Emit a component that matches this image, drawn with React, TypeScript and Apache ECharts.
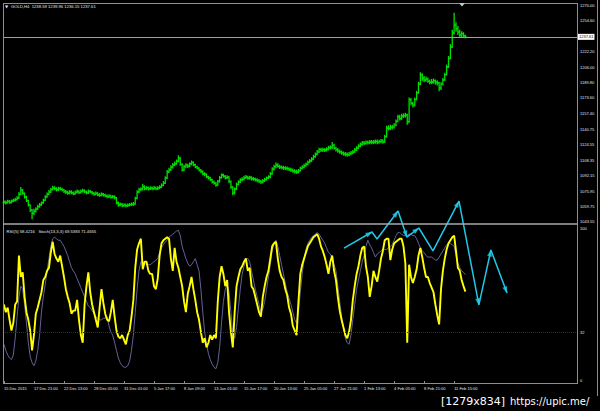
import React, { useEffect, useRef } from "react";
import * as echarts from "echarts";

const xTickLabels = ["15 Dec 2015","17 Dec 21:00","22 Dec 13:00","28 Dec 05:00","31 Dec 01:00","5 Jan 17:00","8 Jan 09:00","13 Jan 01:00","15 Jan 17:00","20 Jan 13:00","25 Jan 05:00","27 Jan 21:00","1 Feb 13:00","4 Feb 05:00","8 Feb 21:00","11 Feb 15:00"];
const barsPerLabel = 16;
const priceTicks = [1270.0,1254.6,1222.2,1206.0,1189.8,1173.6,1157.4,1140.75,1124.55,1108.35,1092.15,1075.95,1059.75,1043.55];
const indicatorTicks = [0, 32, 100];
const rsiLevel = 32;
const lastPrice = 1237.61;
const firstOpen = 1064.0;

const closes = [1064.5,1063.8,1065.2,1064.0,1065.5,1066.3,1067.1,1068.7,1072.5,1077.0,
1073.5,1069.8,1066.0,1061.4,1056.2,1052.5,1055.0,1057.1,1059.6,1061.4,
1063.5,1066.2,1069.8,1072.4,1075.0,1077.6,1079.2,1078.5,1077.4,1078.6,
1078.0,1077.2,1075.5,1074.8,1073.9,1075.2,1074.0,1073.2,1074.6,1075.5,
1074.3,1075.8,1076.5,1075.1,1074.0,1075.6,1075.0,1073.8,1072.5,1073.6,
1072.1,1071.5,1072.8,1071.9,1071.0,1070.2,1070.8,1069.5,1070.1,1069.0,
1063.5,1061.4,1062.0,1060.8,1061.5,1060.5,1061.2,1061.8,1062.0,1062.5,
1068.5,1075.0,1077.5,1078.0,1080.5,1078.5,1079.5,1078.2,1079.0,1078.6,
1079.4,1078.5,1079.2,1080.0,1082.0,1084.4,1089.5,1096.0,1098.5,1101.0,
1103.3,1104.5,1107.0,1110.6,1104.0,1098.0,1101.5,1103.0,1102.0,1104.5,
1106.0,1103.5,1101.5,1100.0,1098.0,1096.5,1094.0,1093.5,1091.0,1089.7,
1088.0,1085.5,1084.0,1082.3,1086.0,1090.0,1092.8,1091.5,1089.8,1090.7,
1086.0,1080.0,1074.0,1078.0,1083.0,1085.5,1087.6,1088.5,1090.0,1090.7,
1089.5,1090.2,1088.9,1088.6,1087.8,1087.0,1086.2,1085.5,1086.8,1088.0,
1089.5,1090.7,1094.0,1099.0,1101.5,1103.3,1102.0,1101.0,1100.5,1100.2,
1099.8,1099.5,1098.6,1098.0,1097.0,1096.5,1096.0,1097.5,1099.8,1101.0,
1102.5,1104.0,1106.0,1107.5,1109.5,1112.0,1114.5,1117.0,1119.5,1118.8,
1119.5,1119.0,1120.0,1121.5,1122.0,1124.0,1121.0,1119.5,1118.0,1117.0,
1116.0,1115.0,1114.5,1114.0,1115.0,1116.0,1117.0,1119.0,1121.0,1123.0,
1125.0,1126.4,1126.0,1127.0,1126.8,1127.5,1127.0,1127.4,1128.0,1127.0,
1127.8,1128.5,1127.4,1133.0,1142.0,1141.5,1143.0,1143.1,1145.0,1149.0,
1153.6,1152.0,1154.5,1155.0,1155.7,1148.4,1171.5,1168.0,1166.0,1172.0,
1178.8,1188.0,1197.7,1194.0,1192.4,1193.5,1191.0,1190.0,1190.3,1191.5,
1190.0,1189.3,1184.0,1188.0,1192.4,1198.0,1206.0,1215.0,1227.0,1241.7,
1250.0,1246.0,1242.7,1239.6,1241.0,1238.59,1237.61];

const highs = [1066.0,1066.2,1066.8,1066.5,1067.0,1068.0,1068.9,1070.5,1075.0,1080.2,
1078.0,1074.5,1071.0,1067.0,1062.0,1057.0,1057.5,1059.0,1061.5,1063.5,
1065.0,1068.0,1071.5,1074.5,1077.0,1079.5,1081.5,1081.0,1080.0,1080.5,
1080.4,1079.5,1078.2,1077.0,1076.2,1077.0,1076.8,1075.5,1076.5,1077.5,
1076.8,1077.6,1078.5,1077.8,1076.5,1077.5,1077.2,1076.0,1075.0,1075.5,
1074.8,1073.8,1074.6,1074.0,1073.2,1072.5,1072.6,1072.0,1071.8,1071.5,
1069.8,1065.0,1064.0,1063.5,1063.2,1063.0,1063.0,1063.5,1064.0,1064.5,
1070.0,1076.8,1079.5,1080.0,1083.5,1082.0,1081.2,1080.6,1081.0,1080.8,
1081.2,1080.8,1081.0,1082.0,1084.0,1086.5,1091.5,1098.0,1100.5,1103.0,
1105.5,1107.0,1109.0,1113.5,1111.5,1105.0,1103.5,1105.0,1104.5,1106.0,
1108.0,1107.0,1104.5,1102.5,1101.0,1099.0,1097.5,1095.8,1094.5,1092.0,
1091.0,1089.0,1087.0,1085.5,1087.5,1091.8,1094.5,1094.2,1092.5,1092.6,
1091.5,1087.0,1081.0,1079.8,1084.8,1087.2,1089.5,1090.5,1092.0,1092.8,
1092.0,1092.0,1091.5,1090.8,1090.0,1089.5,1088.5,1087.8,1088.5,1089.8,
1091.2,1092.5,1096.0,1101.0,1103.5,1106.0,1105.0,1103.5,1102.8,1102.5,
1102.0,1101.8,1101.0,1100.5,1099.5,1098.8,1098.5,1099.2,1101.5,1103.0,
1104.5,1106.0,1108.0,1109.5,1111.5,1114.0,1116.5,1119.0,1121.5,1121.5,
1121.5,1121.2,1122.0,1123.5,1124.0,1127.5,1125.5,1122.5,1121.0,1119.5,
1118.5,1117.5,1116.8,1116.5,1117.0,1118.0,1119.0,1121.0,1123.0,1125.0,
1127.0,1128.5,1128.5,1129.0,1129.0,1129.5,1129.5,1129.5,1130.0,1130.0,
1129.8,1130.5,1130.2,1135.0,1144.5,1145.0,1145.5,1145.5,1147.0,1151.0,
1156.0,1156.0,1157.0,1157.5,1158.0,1157.0,1174.0,1173.5,1169.5,1174.0,
1181.0,1190.5,1200.5,1199.5,1196.5,1196.0,1195.0,1193.0,1193.5,1194.0,
1193.0,1192.0,1190.5,1190.0,1194.5,1200.0,1208.5,1217.5,1230.0,1245.0,
1263.0,1253.0,1249.0,1245.0,1243.5,1242.5,1239.96];

const lows = [1062.5,1062.0,1062.9,1062.8,1063.0,1064.2,1065.0,1066.2,1067.8,1071.5,
1072.0,1068.0,1064.5,1059.8,1054.0,1046.4,1050.5,1053.5,1056.0,1058.5,
1060.5,1062.8,1065.5,1068.9,1071.5,1074.0,1076.5,1076.8,1075.5,1076.0,
1076.5,1075.6,1074.0,1073.0,1072.2,1072.5,1072.5,1071.5,1072.0,1073.5,
1072.8,1073.5,1074.5,1073.8,1072.5,1073.0,1073.6,1072.2,1071.0,1071.5,
1070.5,1069.8,1070.5,1070.2,1069.5,1068.5,1068.8,1068.0,1068.2,1067.2,
1062.0,1059.5,1060.0,1059.0,1059.4,1058.8,1059.2,1059.8,1060.2,1060.5,
1061.5,1067.5,1074.0,1075.8,1076.5,1076.8,1077.0,1076.5,1077.0,1076.8,
1077.2,1076.9,1077.0,1078.0,1079.0,1081.0,1083.5,1088.5,1095.0,1097.0,
1099.5,1102.0,1103.5,1106.0,1102.5,1096.5,1097.0,1100.0,1100.2,1101.0,
1103.0,1102.0,1100.0,1098.5,1096.5,1094.8,1092.5,1091.5,1089.5,1088.0,
1086.5,1084.0,1082.5,1080.5,1081.5,1085.0,1089.0,1090.0,1088.0,1088.5,
1084.5,1078.5,1071.5,1072.5,1077.0,1082.0,1084.5,1086.2,1087.0,1088.5,
1087.8,1087.8,1087.0,1086.8,1086.0,1085.2,1084.5,1083.5,1084.0,1085.5,
1087.0,1088.5,1089.5,1093.0,1097.5,1100.0,1100.5,1099.0,1098.8,1098.2,
1098.0,1097.5,1097.0,1096.0,1095.2,1094.5,1094.0,1094.5,1096.5,1098.5,
1100.0,1101.5,1103.0,1105.0,1106.5,1108.5,1111.0,1113.5,1116.0,1117.0,
1117.0,1117.0,1117.5,1118.5,1119.5,1120.0,1119.5,1117.5,1116.2,1115.0,
1114.0,1113.0,1112.5,1112.0,1112.5,1113.5,1114.5,1116.0,1118.0,1120.0,
1122.0,1123.5,1124.0,1124.5,1124.8,1125.0,1125.0,1125.2,1125.5,1125.0,
1125.5,1126.0,1125.5,1126.5,1132.0,1139.5,1140.0,1140.5,1141.5,1144.0,
1148.0,1150.0,1150.5,1152.5,1153.0,1145.5,1147.5,1166.0,1163.5,1164.5,
1171.0,1178.0,1187.0,1191.5,1190.0,1190.5,1189.5,1188.0,1188.0,1188.5,
1187.5,1186.5,1180.5,1182.0,1187.0,1191.5,1197.0,1205.0,1214.0,1226.0,
1240.0,1243.0,1239.5,1237.0,1237.5,1236.5,1236.15];

const rsi5 = [50,45,48,40,33,38,50,52,82,68,
71,55,45,40,33,20,30,44,48,53,
58,66,68,72,74,84,91,83,80,78,
82,75,68,60,55,51,44,46,46,53,
40,30,25,50,62,71,58,50,45,40,
35,48,60,51,44,40,39,45,53,42,
33,29,28,30,27,24,30,33,42,53,
74,86,90,93,73,78,78,72,70,70,
62,60,67,82,90,92,93,94,93,80,
72,87,78,74,68,62,52,45,57,62,
68,60,53,45,40,32,25,28,22,25,
30,27,30,28,52,68,75,70,62,66,
45,32,22,45,62,68,73,75,78,80,
72,74,62,60,55,50,45,42,55,62,
68,72,80,88,90,91,80,72,68,66,
60,56,48,44,36,33,30,52,70,76,
80,84,88,90,92,94,95,96,93,88,
85,81,76,70,78,82,72,66,55,46,
40,35,30,28,32,40,53,62,70,75,
82,87,88,75,68,55,62,72,68,65,
72,80,85,92,93,93,79,86,90,91,
92,93,93,88,77,25,76,68,64,68,
73,82,87,81,74,68,68,64,61,58,
50,43,37,60,72,80,86,90,92,94,
95,85,74,72,66,62,58.42];

const stochMain = [24,20,17,15,14,17,28,42,55,62,
60,50,38,25,16,12,10,13,20,30,
45,55,63,72,80,88,93,94,93,92,
92,90,88,85,82,78,74,72,70,67,
64,61,58,55,52,49,48,46,44,42,
41,40,40,41,41,42,36,32,30,25,
20,15,12,10,9,9,10,13,20,30,
45,60,72,78,78,77,76,76,76,77,
78,79,80,84,87,89,91,92,94,95,
96,97,98,98.5,95,88,84,80,77,75,
76,78,80,76,72,60,45,32,24,18,
14,11,9,8,12,22,38,52,60,63,
58,45,30,28,35,48,60,70,75,80,
80,78,72,66,60,55,50,45,47,52,
60,68,76,85,90,92,88,82,76,70,
64,58,54,50,45,40,38,45,58,70,
80,86,90,92,94,95,96,97,96,94,
92,90,87,84,83,80,76,72,62,52,
42,35,28,25,24,30,40,50,60,66,
72,78,82,88,92,89,87,84,81,83,
84,85,86,86,86,87,88,89,92,95,
97,97,96,95,95,95,96,96,95,95,
93,90,87,85,84,82,81,81,81,80,
79,79,81,83,85,87,89,90,90,89,
88,82,77,74,72,71,69.54];

// hand-drawn cyan annotation (bar index, indicator units)
const cyanX = [181.3, 196.2, 198.9, 210.1, 214.8, 221.2, 228.7, 242.6, 253.2, 259.6, 268.2];
const cyanV = [86.9, 97.4, 92.8, 111.1, 94.1, 100.0, 85.0, 117.6, 49.7, 85.6, 57.5];
const cyanArrowAt = [1, 3, 4, 5, 7, 8, 9, 10];

const FONT = "Liberation Sans";
const TXT = "#e6e6e6";
const FRAME = "#8e8e8e";
const CYAN = "#22c8e8";

export default function App() {
  const ref = useRef<HTMLDivElement>(null);
  useEffect(() => {
    const chart = echarts.init(ref.current as HTMLDivElement, null, { renderer: "svg" });
    const ohlc = closes.map((c, i) => [i, i === 0 ? firstOpen : closes[i - 1], c, lows[i], highs[i]]);
    const labelValues = xTickLabels.map((_, k) => k * barsPerLabel);
    const xMin = -0.5;
    const xMax = 305.5;

    const option: any = {
      animation: false,
      backgroundColor: "#000000",
      grid: [
        { left: 3, top: 3, width: 574, height: 220 },
        { left: 3, top: 226, width: 574, height: 157 },
      ],
      xAxis: [
        { type: "value", gridIndex: 0, min: xMin, max: xMax, show: false },
        {
          type: "value", gridIndex: 1, min: xMin, max: xMax,
          axisLine: { show: false },
          splitLine: { show: false },
          axisTick: { show: true, customValues: labelValues, length: 3, lineStyle: { color: FRAME } },
          axisLabel: {
            customValues: labelValues,
            formatter: (v: number) => xTickLabels[Math.round(v / barsPerLabel)] ?? "",
            align: "left", color: TXT, fontSize: 4, fontFamily: FONT, margin: 3,
          },
        },
      ],
      yAxis: [
        {
          type: "value", gridIndex: 0, position: "right", min: 1042.5, max: 1273.1,
          axisLine: { show: false }, splitLine: { show: false },
          axisTick: { show: false },
          axisLabel: {
            customValues: priceTicks,
            formatter: (v: number) => v.toFixed(2),
            color: TXT, fontSize: 4, fontFamily: FONT, margin: 3,
          },
        },
        {
          type: "value", gridIndex: 1, position: "right", min: -1.31, max: 101.31,
          axisLine: { show: false }, splitLine: { show: false },
          axisTick: { show: false },
          axisLabel: {
            customValues: indicatorTicks,
            formatter: (v: number) => String(v),
            color: TXT, fontSize: 4, fontFamily: FONT, margin: 3,
          },
        },
      ],
      series: [
        {
          type: "custom", name: "GOLD,H4", xAxisIndex: 0, yAxisIndex: 0,
          data: ohlc,
          encode: { x: 0, y: [1, 2, 3, 4] },
          renderItem: (params: any, api: any) => {
            const x = api.value(0);
            const o = api.coord([x, api.value(1)]);
            const c = api.coord([x, api.value(2)]);
            const l = api.coord([x, api.value(3)]);
            const h = api.coord([x, api.value(4)]);
            const px = h[0];
            const style = { stroke: "#00e000", lineWidth: 1.3 };
            return {
              type: "group",
              children: [
                { type: "line", shape: { x1: px, y1: h[1], x2: px, y2: l[1] }, style },
                { type: "line", shape: { x1: px - 1.3, y1: o[1], x2: px, y2: o[1] }, style },
                { type: "line", shape: { x1: px, y1: c[1], x2: px + 1.3, y2: c[1] }, style },
              ],
            };
          },
          markLine: {
            silent: true, symbol: "none", animation: false,
            data: [{ yAxis: lastPrice }],
            lineStyle: { color: "#a0a0a0", width: 1, type: "solid" },
            label: {
              show: true, position: "end", distance: 1,
              formatter: lastPrice.toFixed(2),
              backgroundColor: "#ffffff", color: "#000000",
              fontSize: 4, fontFamily: FONT, padding: [1, 1],
            },
          },
          z: 3,
        },
        {
          type: "line", name: "Stoch(13,3,3)", xAxisIndex: 1, yAxisIndex: 1,
          data: stochMain.map((v, i) => [i, v]),
          showSymbol: false, symbol: "none",
          lineStyle: { color: "#62629a", width: 1 },
          z: 3,
        },
        {
          type: "line", name: "RSI(5)", xAxisIndex: 1, yAxisIndex: 1,
          data: rsi5.map((v, i) => [i, v]),
          showSymbol: false, symbol: "none",
          lineStyle: { color: "#ffff00", width: 1.9 },
          markLine: {
            silent: true, symbol: "none", animation: false,
            data: [{ yAxis: rsiLevel }],
            lineStyle: { color: "#5a1a34", width: 1, type: "dotted" },
            label: { show: false },
          },
          z: 4,
        },
        {
          type: "line", name: "annotation", xAxisIndex: 1, yAxisIndex: 1,
          data: cyanX.map((x, i) => [x, cyanV[i]]),
          clip: false, showSymbol: false, symbol: "none",
          lineStyle: { color: CYAN, width: 1.5 },
          z: 6,
        },
        {
          id: "arrows", type: "scatter", xAxisIndex: 1, yAxisIndex: 1,
          data: [], clip: false, symbol: "triangle", symbolSize: [5, 7],
          itemStyle: { color: CYAN }, z: 7, silent: true,
        },
      ],
      graphic: [
        { type: "line", shape: { x1: 3.5, y1: 3, x2: 3.5, y2: 384 }, style: { stroke: FRAME, lineWidth: 1 }, z: 10 },
        { type: "line", shape: { x1: 3, y1: 3.5, x2: 577.5, y2: 3.5 }, style: { stroke: FRAME, lineWidth: 1 }, z: 10 },
        { type: "line", shape: { x1: 577.5, y1: 3, x2: 577.5, y2: 384 }, style: { stroke: FRAME, lineWidth: 1 }, z: 10 },
        { type: "line", shape: { x1: 3, y1: 224, x2: 577.5, y2: 224 }, style: { stroke: "#a8a8a8", lineWidth: 1.5 }, z: 10 },
        { type: "line", shape: { x1: 3, y1: 383.5, x2: 577.5, y2: 383.5 }, style: { stroke: FRAME, lineWidth: 1 }, z: 10 },
        { type: "line", shape: { x1: 597.5, y1: 0, x2: 597.5, y2: 396 }, style: { stroke: FRAME, lineWidth: 1 }, z: 10 },
        { type: "polygon", shape: { points: [[459, 3], [465, 3], [462, 6.5]] }, style: { fill: "#c8c8c8" }, z: 10 },
        { type: "text", x: 5, y: 6.7, style: { text: "▼", fill: TXT, fontSize: 4, fontFamily: "DejaVu Sans", verticalAlign: "middle" }, z: 10 },
        { type: "text", x: 11, y: 6.7, style: { text: "GOLD,H4  1238.59 1239.96 1236.15 1237.61", fill: TXT, fontSize: 4.2, fontFamily: FONT, verticalAlign: "middle" }, z: 10 },
        { type: "text", x: 6.5, y: 231, style: { text: "RSI(5) 58.4216   Stoch(13,3,3) 69.5383 71.4655", fill: TXT, fontSize: 4.2, fontFamily: FONT, verticalAlign: "middle" }, z: 10 },
        { type: "text", x: 441, y: 401, style: { text: "[1279x834]", fill: "#ffffff", fontSize: 11, fontFamily: "DejaVu Sans", verticalAlign: "middle" }, z: 10 },
        { type: "text", x: 510, y: 401, style: { text: "https://upic.me/", fill: "#ffffff", fontSize: 10, fontFamily: "DejaVu Sans", verticalAlign: "middle" }, z: 10 },
      ],
    };
    chart.setOption(option);

    const pts = cyanX.map((x, i) => chart.convertToPixel({ gridIndex: 1 } as any, [x, cyanV[i]]) as number[]);
    const arrows = cyanArrowAt.map((k) => {
      const a = pts[k - 1];
      const b = pts[k];
      const ang = Math.atan2(b[1] - a[1], b[0] - a[0]);
      const center = [b[0] - Math.cos(ang) * 3, b[1] - Math.sin(ang) * 3];
      const val = chart.convertFromPixel({ gridIndex: 1 } as any, center) as number[];
      return { value: val, symbolRotate: ((-Math.PI / 2 - ang) * 180) / Math.PI };
    });
    chart.setOption({ series: [{ id: "arrows", data: arrows }] });

    return () => chart.dispose();
  }, []);
  return <div ref={ref} style={{ position: "fixed", left: 0, top: 0, width: 600, height: 411, background: "#000" }} />;
}
